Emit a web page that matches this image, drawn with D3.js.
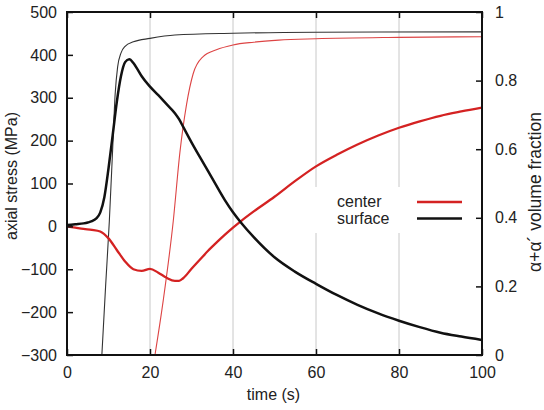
<!DOCTYPE html>
<html>
<head>
<meta charset="utf-8">
<script src="https://cdn.jsdelivr.net/npm/d3@7"></script>
<style>
  body { margin: 0; background: #fff; }
  svg { font-family: "Liberation Sans", Arial, sans-serif; }
  .tick-label { font-size: 16px; fill: #222; }
  .axis-title { font-size: 16px; fill: #222; }
</style>
</head>
<body>
<svg id="chart" width="544" height="410"></svg>
<script>
// ---- data ----
const timeTicks = [0, 20, 40, 60, 80, 100];
const stressTicks = [500, 400, 300, 200, 100, 0, -100, -200, -300];
const fracTicks = [0, 0.2, 0.4, 0.6, 0.8, 1];

// axial stress at the surface (MPa)
const surfaceT = [0, 2, 4, 5, 6, 7, 8, 9, 10, 11, 12, 13, 14, 15, 16, 17, 18, 20, 22, 24, 26, 27, 28, 30, 32, 35, 38, 40, 42, 45, 50, 55, 60, 65, 70, 75, 80, 85, 90, 95, 100];
const surfaceStress = [3, 5, 7, 9, 12, 18, 32, 68, 135, 212, 290, 350, 383, 390, 381, 366, 350, 326, 306, 285, 264, 250, 232, 196, 162, 112, 62, 33, 8, -25, -72, -106, -134, -160, -183, -203, -220, -235, -248, -257, -265];

// axial stress at the center (MPa)
const centerT = [0, 2, 4, 6, 8, 10, 12, 14, 16, 18, 20, 22, 24, 26, 27, 28, 30, 32, 34, 36, 38, 40, 42, 45, 50, 55, 60, 65, 70, 75, 80, 85, 90, 95, 100];
const centerStress = [0, -3, -6, -8, -12, -28, -55, -82, -100, -104, -99, -108, -120, -127, -127, -121, -99, -78, -57, -38, -20, -3, 13, 35, 69, 106, 140, 167, 191, 212, 230, 245, 258, 268, 277];

// alpha + alpha' volume fraction
const surfFracT = [8.4, 9.3, 10.2, 11, 11.6, 12.2, 13, 14, 16, 20, 26, 40, 60, 100];
const surfFrac = [0, 0.2, 0.39, 0.6, 0.76, 0.84, 0.88, 0.9, 0.913, 0.923, 0.933, 0.938, 0.941, 0.942];
const centFracT = [21.2, 23.2, 25.6, 27.2, 28.8, 30.4, 32.8, 36, 40, 45, 51, 60, 80, 100];
const centFrac = [0, 0.16, 0.39, 0.59, 0.73, 0.82, 0.87, 0.89, 0.904, 0.912, 0.918, 0.922, 0.926, 0.928];

const legendItems = [
  { label: 'center', color: '#d42222' },
  { label: 'surface', color: '#111' }
];

// ---- layout ----
const svg = d3.select('#chart');
const plotL = 67, plotR = 482, plotT = 12, plotB = 355;

const x = d3.scaleLinear().domain([0, 100]).range([plotL, plotR]);
const yL = d3.scaleLinear().domain([-300, 500]).range([plotB, plotT]);
const yR = d3.scaleLinear().domain([0, 1]).range([plotB, plotT]);

// vertical grid
svg.append('g')
  .selectAll('line')
  .data(timeTicks.slice(1, -1))
  .join('line')
  .attr('x1', d => x(d)).attr('x2', d => x(d))
  .attr('y1', plotT).attr('y2', plotB)
  .attr('stroke', '#c8c8c8').attr('stroke-width', 1);

// legend background (hides grid behind it)
svg.append('rect')
  .attr('x', 312).attr('y', 187).attr('width', 162).attr('height', 46)
  .attr('fill', '#fff');

const zip = (ts, vs) => ts.map((t, i) => [t, vs[i]]);
const lineL = d3.line().x(d => x(d[0])).y(d => yL(d[1])).curve(d3.curveMonotoneX);
const lineR = d3.line().x(d => x(d[0])).y(d => yR(d[1])).curve(d3.curveMonotoneX);

// volume fraction curves (thin)
svg.append('path').attr('d', lineR(zip(surfFracT, surfFrac)))
  .attr('fill', 'none').attr('stroke', '#333').attr('stroke-width', 1.1);
svg.append('path').attr('d', lineR(zip(centFracT, centFrac)))
  .attr('fill', 'none').attr('stroke', '#dd4444').attr('stroke-width', 1.1);

// stress curves (thick)
svg.append('path').attr('d', lineL(zip(centerT, centerStress)))
  .attr('fill', 'none').attr('stroke', legendItems[0].color).attr('stroke-width', 2.3);
svg.append('path').attr('d', lineL(zip(surfaceT, surfaceStress)))
  .attr('fill', 'none').attr('stroke', legendItems[1].color).attr('stroke-width', 2.5);

// axes: ticks drawn inward
const tickLen = 6;
const axisLeft = d3.axisLeft(yL).tickValues(stressTicks).tickSize(-tickLen).tickPadding(10).tickFormat(d => d < 0 ? '\u2212' + Math.abs(d) : d);
const axisRight = d3.axisRight(yR).tickValues(fracTicks).tickSize(-tickLen).tickPadding(13).tickFormat(d => d3.format('~g')(d));
const axisBottom = d3.axisBottom(x).tickValues(timeTicks).tickSize(-tickLen).tickPadding(12);
const axisTop = d3.axisTop(x).tickValues(timeTicks).tickSize(-tickLen).tickFormat('');

function styleAxis(g) {
  g.select('.domain').remove();
  g.selectAll('.tick line').attr('stroke', '#111').attr('stroke-width', 1.5);
  g.selectAll('.tick text').attr('class', 'tick-label').attr('font-size', null).attr('font-family', null);
}

svg.append('g').attr('transform', `translate(${plotL},0)`).call(axisLeft).call(styleAxis);
svg.append('g').attr('transform', `translate(${plotR},0)`).call(axisRight).call(styleAxis);
svg.append('g').attr('transform', `translate(0,${plotB})`).call(axisBottom).call(styleAxis);
svg.append('g').attr('transform', `translate(0,${plotT})`).call(axisTop).call(styleAxis);

// frame
svg.append('rect')
  .attr('x', plotL).attr('y', plotT).attr('width', plotR - plotL).attr('height', plotB - plotT)
  .attr('fill', 'none').attr('stroke', '#111').attr('stroke-width', 2);

// axis titles
svg.append('text').attr('class', 'axis-title')
  .attr('transform', 'translate(17,176) rotate(-90)')
  .attr('text-anchor', 'middle')
  .text('axial stress (MPa)');
svg.append('text').attr('class', 'axis-title')
  .attr('x', (plotL + plotR) / 2 - 1).attr('y', 400)
  .attr('text-anchor', 'middle')
  .text('time (s)');
svg.append('text').attr('class', 'axis-title')
  .attr('transform', 'translate(541,192) rotate(-90)')
  .attr('text-anchor', 'middle')
  .style('font-size', '17.5px')
  .text('\u03b1+\u03b1\u00b4 volume fraction');

// legend
const leg = svg.append('g')
  .selectAll('g')
  .data(legendItems)
  .join('g')
  .attr('transform', (d, i) => `translate(0,${202 + i * 16.5})`);
leg.append('text').attr('class', 'tick-label')
  .attr('x', 337).attr('y', 5)
  .text(d => d.label);
leg.append('line')
  .attr('x1', 417).attr('x2', 462)
  .attr('stroke', d => d.color).attr('stroke-width', 2.3);
</script>
</body>
</html>
